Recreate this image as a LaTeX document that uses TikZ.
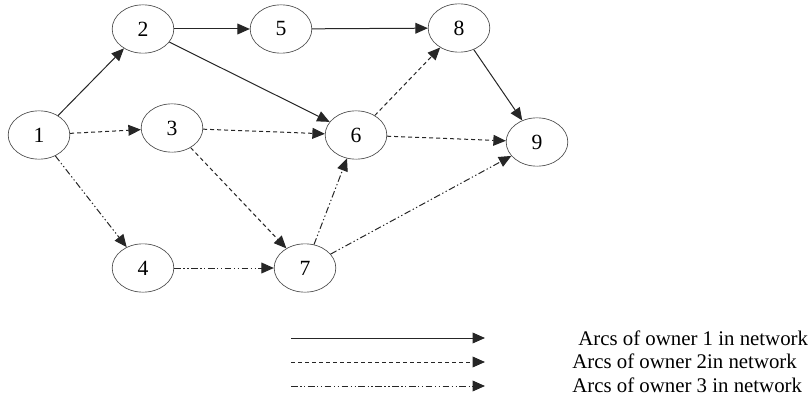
\documentclass[tikz,border=0pt]{standalone}
\usepackage{fontspec}
\setmainfont{Liberation Serif}
\usetikzlibrary{shapes.geometric,arrows.meta}
\tikzset{
  event/.style={draw=black!70, ellipse, minimum width=37pt, minimum height=29pt, inner sep=0pt, font=\fontsize{13}{15}\selectfont},
  arc/.style={draw=black!85, line width=0.6pt, -{Triangle[length=7.5pt,width=6.5pt]}},
  ownerone/.style={arc},
  ownertwo/.style={arc, dash pattern=on 2.4pt off 1.8pt},
  ownerthree/.style={arc, dash pattern=on 4pt off 1.5pt on 0.8pt off 1.5pt on 0.8pt off 1.5pt},
  legendtext/.style={anchor=west, inner sep=0pt, font=\fontsize{12.5}{14}\selectfont}
}
\begin{document}
\begin{tikzpicture}[x=0.6pt,y=-0.6pt]
\useasboundingbox (0,0) rectangle (810,402);
\node[event] (n1) at (39,135) {1};
\node[event] (n2) at (143,29) {2};
\node[event] (n3) at (172,128) {3};
\node[event] (n4) at (143,268) {4};
\node[event] (n5) at (281,29) {5};
\node[event] (n6) at (356,135) {6};
\node[event] (n7) at (305,268) {7};
\node[event] (n8) at (459,28) {8};
\node[event] (n9) at (537,142) {9};
\draw[ownerone] (n1) -- (n2);
\draw[ownerone] (n2) -- (n5);
\draw[ownerone] (n5) -- (n8);
\draw[ownerone] (n2) -- (n6);
\draw[ownerone] (n8) -- (n9);
\draw[ownertwo] (n1) -- (n3);
\draw[ownertwo] (n3) -- (n6);
\draw[ownertwo] (n3) -- (n7);
\draw[ownertwo] (n6) -- (n8);
\draw[ownertwo] (n6) -- (n9);
\draw[ownerthree] (n1) -- (n4);
\draw[ownerthree] (n4) -- (n7);
\draw[ownerthree] (n7) -- (n6);
\draw[ownerthree] (n7) -- (n9);
% legend
\coordinate (a1) at (291,338);
\coordinate (b1) at (485,338);
\coordinate (a2) at (291,362);
\coordinate (b2) at (485,362);
\coordinate (a3) at (291,386);
\coordinate (b3) at (485,386);
\draw[ownerone] (a1) -- (b1);
\draw[ownertwo] (a2) -- (b2);
\draw[ownerthree] (a3) -- (b3);
\node[legendtext] (t1) at (578,338) {Arcs of owner 1 in network};
\node[legendtext] (t2) at (572,361) {Arcs of owner 2in network};
\node[legendtext] (t3) at (572,385) {Arcs of owner 3 in network};
\end{tikzpicture}
\end{document}
